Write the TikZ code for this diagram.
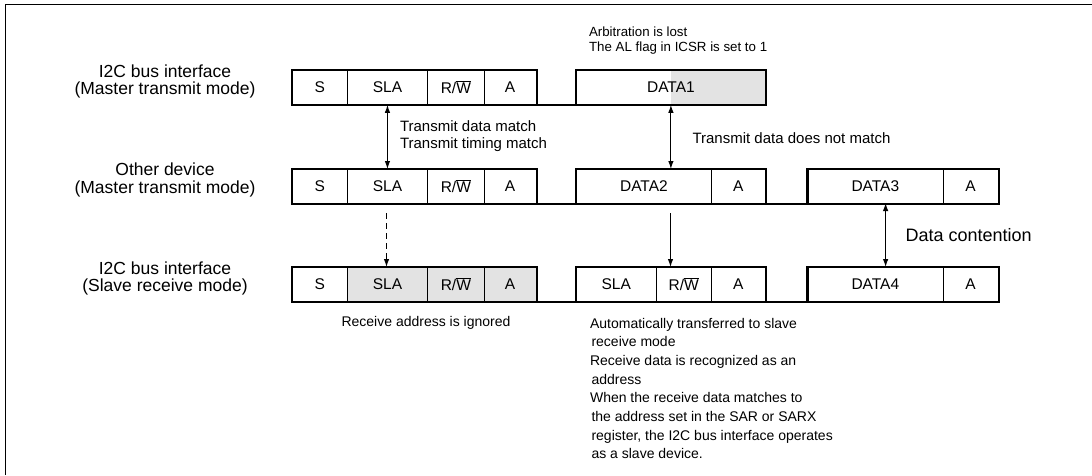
\documentclass[tikz,border=0pt]{standalone}
\usepackage{fontspec}
\setmainfont{Liberation Sans}
\usetikzlibrary{arrows.meta}
\newcommand{\rwbar}{R/$\overline{\hbox{W}}$}
\tikzset{
  cell/.style={draw, line width=0.8pt, anchor=north west, inner sep=0pt,
    minimum height=34pt, font=\fontsize{15.5}{18}\selectfont},
  grp/.style={draw, line width=2.4pt},
  grayfill/.style={fill=black!11},
  bus/.style={line width=2.4pt},
  lbl/.style={align=center, font=\fontsize{17.5}{17.5}\selectfont},
  note/.style={anchor=west, align=left, font=\fontsize{15}{17}\selectfont},
  small/.style={anchor=west, align=left, font=\fontsize{13.5}{16}\selectfont},
  dbl/.style={line width=1.1pt, {Latex[length=8pt,width=5.5pt]}-{Latex[length=8pt,width=5.5pt]}},
  sgl/.style={line width=1.1pt, -{Latex[length=8pt,width=5.5pt]}},
}
\begin{document}
\begin{tikzpicture}[x=1pt,y=-1pt]
\useasboundingbox (0,0) rectangle (1092,475);
\draw[line width=1.6pt] (5.5,475) -- (5.5,4.5) -- (1092,4.5);

% ---- row 1
\node[cell, minimum width=54.7pt] (r1s) at (292,70) {S};
\node[cell, minimum width=80.7pt] (r1sla) at (346.7,70) {SLA};
\node[cell, minimum width=56.1pt] (r1rw) at (427.4,70) {\rwbar};
\node[cell, minimum width=52.5pt] (r1a) at (483.5,70) {A};
\fill[grayfill] (671,70) rectangle (765,104);
\node[cell, minimum width=189pt] (r1d1) at (576,70) {DATA1};
\draw[grp] (r1s.north west) rectangle (r1a.south east);
\draw[grp] (r1d1.north west) rectangle (r1d1.south east);
\draw[bus] (r1a.south east) -- (r1d1.south west);

% ---- row 2
\node[cell, minimum width=54.7pt] (r2s) at (292,169) {S};
\node[cell, minimum width=80.7pt] (r2sla) at (346.7,169) {SLA};
\node[cell, minimum width=56.1pt] (r2rw) at (427.4,169) {\rwbar};
\node[cell, minimum width=52.5pt] (r2a) at (483.5,169) {A};
\node[cell, minimum width=135pt] (r2d2) at (576,169) {DATA2};
\node[cell, minimum width=54pt] (r2a2) at (711,169) {A};
\node[cell, minimum width=135.1pt] (r2d3) at (807.4,169) {DATA3};
\node[cell, minimum width=55.5pt] (r2a3) at (942.5,169) {A};
\draw[grp] (r2s.north west) rectangle (r2a.south east);
\draw[grp] (r2d2.north west) rectangle (r2a2.south east);
\draw[grp] (r2d3.north west) rectangle (r2a3.south east);
\draw[bus] (r2a.south east) -- (r2d2.south west);
\draw[bus] (r2a2.south east) -- (r2d3.south west);

% ---- row 3
\node[cell, minimum width=54.7pt] (r3s) at (292,267) {S};
\node[cell, grayfill, minimum width=80.7pt] (r3sla) at (346.7,267) {SLA};
\node[cell, grayfill, minimum width=56.1pt] (r3rw) at (427.4,267) {\rwbar};
\node[cell, grayfill, minimum width=52.5pt] (r3a) at (483.5,267) {A};
\node[cell, minimum width=79.8pt] (r3sla2) at (576,267) {SLA};
\node[cell, minimum width=55.2pt] (r3rw2) at (655.8,267) {\rwbar};
\node[cell, minimum width=54pt] (r3a2) at (711,267) {A};
\node[cell, minimum width=135.1pt] (r3d4) at (807.4,267) {DATA4};
\node[cell, minimum width=55.5pt] (r3a4) at (942.5,267) {A};
\draw[grp] (r3s.north west) rectangle (r3a.south east);
\draw[grp] (r3sla2.north west) rectangle (r3a2.south east);
\draw[grp] (r3d4.north west) rectangle (r3a4.south east);
\draw[bus] (r3a.south east) -- (r3sla2.south west);
\draw[bus] (r3a2.south east) -- (r3d4.south west);

% ---- left labels
\node[lbl] (l1) at (165,81.5) {I2C bus interface\\(Master transmit mode)};
\node[lbl] (l2) at (165,180) {Other device\\(Master transmit mode)};
\node[lbl] (l3) at (165,278.5) {I2C bus interface\\(Slave receive mode)};

% ---- arrows
\draw[dbl] (r1sla.south) -- (r2sla.north);
\coordinate (d1s) at (r1d1.south);
\draw[dbl] (d1s) -- (d1s |- r2d2.north);
\coordinate (dsh) at (386.5,213);
\draw[sgl, dashed, dash pattern=on 6pt off 4pt] (dsh) -- (dsh |- r3sla.north);
\coordinate (d2s) at (670.5,213);
\draw[sgl] (d2s) -- (d2s |- r3rw2.north);
\coordinate (ct) at (885.6,203);
\draw[dbl] (ct) -- (ct |- r3d4.north);

% ---- notes
\node[small, font=\fontsize{13.3}{15}\selectfont] (arb) at (585.5,40.5)
  {Arbitration is lost\\The AL flag in ICSR is set to 1};
\node[note] (tm) at (396.5,136.5) {Transmit data match\\Transmit timing match};
\node[note] (tdn) at (689,138) {Transmit data does not match};
\node[anchor=west, font=\fontsize{18}{20}\selectfont] (dc) at (902,235) {Data contention};
\node[font=\fontsize{14}{16}\selectfont] (rai) at (426,323) {Receive address is ignored};
\node[small, font=\fontsize{14}{18.7}\selectfont] (auto) at (586.5,388.5)
  {Automatically transferred to slave\\
   \hspace{1.5pt}receive mode\\
   Receive data is recognized as an\\
   \hspace{1.5pt}address\\
   When the receive data matches to\\
   \hspace{1.5pt}the address set in the SAR or SARX\\
   \hspace{1.5pt}register, the I2C bus interface operates\\
   \hspace{1.5pt}as a slave device.};
\end{tikzpicture}
\end{document}
